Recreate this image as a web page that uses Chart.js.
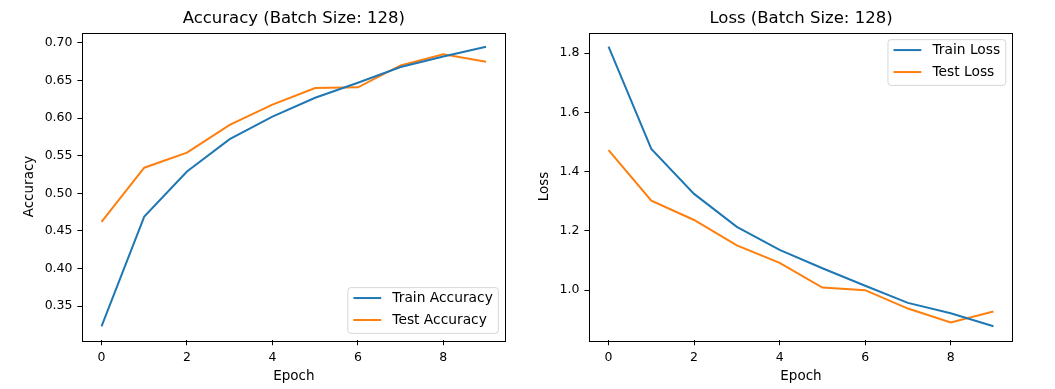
<!DOCTYPE html>
<html>
<head>
<meta charset="utf-8">
<script src="https://cdn.jsdelivr.net/npm/chart.js@4.4.0/dist/chart.umd.min.js"></script>
<style>
  body { margin: 0; background: #fff; width: 1055px; height: 389px; overflow: hidden; position: relative; }
  canvas { position: absolute; top: 0; }
  #accCanvas { left: 0; }
  #lossCanvas { left: 530px; }
</style>
</head>
<body>
<canvas id="accCanvas" width="530" height="389"></canvas>
<canvas id="lossCanvas" width="525" height="389"></canvas>
<script>
const epochs = [0, 1, 2, 3, 4, 5, 6, 7, 8, 9];
const trainAcc = [0.323, 0.469, 0.529, 0.572, 0.602, 0.627, 0.647, 0.668, 0.682, 0.695];
const testAcc = [0.462, 0.534, 0.554, 0.591, 0.618, 0.640, 0.641, 0.670, 0.685, 0.675];
const trainLoss = [1.822, 1.477, 1.325, 1.214, 1.136, 1.074, 1.015, 0.957, 0.922, 0.878];
const testLoss = [1.473, 1.302, 1.237, 1.151, 1.092, 1.009, 1.000, 0.938, 0.891, 0.928];
const xTicks = [0, 2, 4, 6, 8];
const accTicks = [0.35, 0.40, 0.45, 0.50, 0.55, 0.60, 0.65, 0.70];
const lossTicks = [1.0, 1.2, 1.4, 1.6, 1.8];

const BLUE = '#1f77b4';
const ORANGE = '#ff7f0e';
const FONT = "'DejaVu Sans', sans-serif";

Chart.defaults.font.family = FONT;
Chart.defaults.color = '#000';

// matplotlib style autoscale: 5% margin
function padRange(arrs) {
    const all = [].concat(...arrs);
    const lo = Math.min(...all), hi = Math.max(...all);
    const m = (hi - lo) * 0.05;
    return [lo - m, hi + m];
}

const toPts = vals => vals.map((v, i) => ({ x: epochs[i], y: v }));

// axes box drawn on top like matplotlib spines
const framePlugin = {
    id: 'frame',
    afterDatasetsDraw(chart) {
        const { ctx, chartArea: a } = chart;
        ctx.save();
        ctx.strokeStyle = '#000';
        ctx.lineWidth = 1;
        ctx.strokeRect(Math.round(a.left) + 0.5, Math.round(a.top) + 0.5, Math.round(a.right - a.left), Math.round(a.bottom - a.top));
        ctx.restore();
    }
};

const legendPlugin = {
    id: 'mplLegend',
    afterDraw(chart, args, opts) {
        const { ctx, chartArea: a } = chart;
        const em = 13.9;
        const fs = 13.8;
        ctx.save();
        ctx.font = `${fs}px ${FONT}`;
        const sets = chart.data.datasets;
        const textW = Math.max(...sets.map(d => ctx.measureText(d.label).width));
        const w = 0.4 * em + 2 * em + 0.8 * em + textW + 0.4 * em;
        const h = 3.29 * em;
        const x = a.right - 0.5 * em - w;
        const y = opts.loc === 'upper right' ? a.top + 0.5 * em : a.bottom - 0.5 * em - h;
        ctx.beginPath();
        ctx.roundRect(x, y, w, h, 3);
        ctx.fillStyle = 'rgba(255,255,255,0.8)';
        ctx.fill();
        ctx.strokeStyle = 'rgba(204,204,204,0.8)';
        ctx.lineWidth = 1;
        ctx.stroke();
        sets.forEach((d, i) => {
            const cy = y + 0.75 * em + i * 1.58 * em;
            const hx = x + 0.4 * em;
            ctx.beginPath();
            ctx.moveTo(hx, cy);
            ctx.lineTo(hx + 2 * em, cy);
            ctx.strokeStyle = d.borderColor;
            ctx.lineWidth = 2;
            ctx.stroke();
            ctx.fillStyle = '#000';
            ctx.textBaseline = 'middle';
            ctx.fillText(d.label, hx + 2.8 * em, cy + 0.5);
        });
        ctx.restore();
    }
};

function makeChart(canvasId, cfg) {
    const [xMin, xMax] = padRange([epochs]);
    const [yMin, yMax] = padRange(cfg.series);
    const setTicks = list => scale => { scale.ticks = list.map(v => ({ value: v })); };
    return new Chart(document.getElementById(canvasId), {
        type: 'line',
        data: {
            datasets: [
                { label: cfg.labels[0], data: toPts(cfg.series[0]), borderColor: BLUE, backgroundColor: BLUE, borderWidth: 2, pointRadius: 0, tension: 0 },
                { label: cfg.labels[1], data: toPts(cfg.series[1]), borderColor: ORANGE, backgroundColor: ORANGE, borderWidth: 2, pointRadius: 0, tension: 0 }
            ]
        },
        options: {
            responsive: false,
            animation: false,
            layout: { padding: { left: 0, right: cfg.padRight, top: 0, bottom: 0 } },
            plugins: {
                legend: { display: false },
                tooltip: { enabled: false },
                title: {
                    display: true, text: cfg.title, fullSize: false,
                    font: { size: 16.5, weight: 'normal' }, color: '#000',
                    padding: { top: 8.6, bottom: 4.3 }
                },
                mplLegend: { loc: cfg.legendLoc }
            },
            scales: {
                x: {
                    type: 'linear', min: xMin, max: xMax,
                    afterBuildTicks: setTicks(xTicks),
                    afterFit: s => { s.height = 48.7; },
                    grid: { drawOnChartArea: false, drawTicks: true, tickLength: 4.9, color: '#000' },
                    border: { display: false },
                    ticks: { font: { size: 12.5 }, color: '#000', padding: 5, maxRotation: 0, callback: v => String(v) },
                    title: { display: true, text: 'Epoch', font: { size: 13.5 }, color: '#000', padding: { top: 0, bottom: 4.9 } }
                },
                y: {
                    type: 'linear', min: yMin, max: yMax,
                    afterBuildTicks: setTicks(cfg.yTicks),
                    afterFit: s => { s.width = cfg.yWidth; },
                    grid: { drawOnChartArea: false, drawTicks: true, tickLength: 4.9, color: '#000' },
                    border: { display: false },
                    ticks: { font: { size: 12.5 }, color: '#000', padding: 4.9, callback: v => v.toFixed(cfg.digits) },
                    title: { display: true, text: cfg.yLabel, font: { size: 13.5 }, color: '#000', padding: { top: cfg.yTitlePad, bottom: 0 } }
                }
            }
        },
        plugins: [framePlugin, legendPlugin]
    });
}

makeChart('accCanvas', {
    title: 'Accuracy (Batch Size: 128)',
    labels: ['Train Accuracy', 'Test Accuracy'],
    series: [trainAcc, testAcc],
    yTicks: accTicks, digits: 2, yLabel: 'Accuracy',
    yWidth: 82.3, padRight: 24.7, yTitlePad: 20.9,
    legendLoc: 'lower right'
});

makeChart('lossCanvas', {
    title: 'Loss (Batch Size: 128)',
    labels: ['Train Loss', 'Test Loss'],
    series: [trainLoss, testLoss],
    yTicks: lossTicks, digits: 1, yLabel: 'Loss',
    yWidth: 59.3, padRight: 42.3, yTitlePad: 5.9,
    legendLoc: 'upper right'
});
</script>
</body>
</html>
